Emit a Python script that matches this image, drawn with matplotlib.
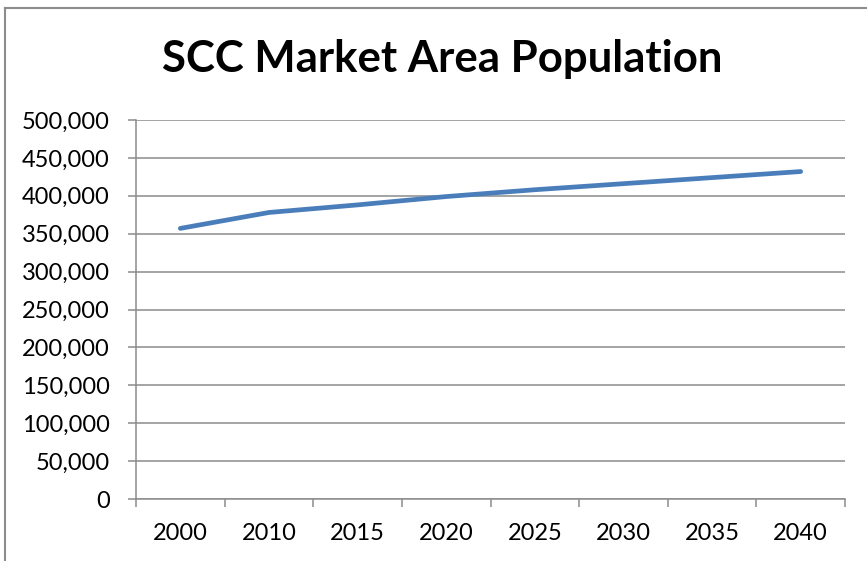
import matplotlib
matplotlib.use("Agg")
import matplotlib.pyplot as plt
from matplotlib.lines import Line2D
from matplotlib.ticker import FuncFormatter, FixedLocator

years = ["2000", "2010", "2015", "2020", "2025", "2030", "2035", "2040"]
population = [357000, 378000, 388000, 399000, 408000, 416000, 424000, 432000]
y_ticks = [0, 50000, 100000, 150000, 200000, 250000, 300000, 350000, 400000, 450000, 500000]
title = "SCC Market Area Population"

plt.rcParams['font.family'] = ['Lato', 'DejaVu Sans']

W, H = 867, 561
fig = plt.figure(figsize=(W / 100, H / 100), dpi=100)
fig.patch.set_facecolor("white")

ax = fig.add_axes([136 / W, 1 - 499 / H, (845 - 136) / W, (499 - 120) / H])
x = list(range(len(years)))
ax.plot(x, population, color="#4A7EBB", lw=3.4, solid_capstyle="round", solid_joinstyle="round", zorder=3)

ax.set_xlim(-0.5, len(years) - 0.5)
ax.set_ylim(0, 500000)
ax.yaxis.set_major_locator(FixedLocator(y_ticks))
ax.yaxis.set_major_formatter(FuncFormatter(lambda v, p: f"{int(v):,}"))
ax.grid(axis="y", color="#8C8C8C", lw=1.1, zorder=1)

ax.xaxis.set_major_locator(FixedLocator([i - 0.5 for i in range(len(years) + 1)]))
ax.xaxis.set_minor_locator(FixedLocator(x))
ax.set_xticklabels([""] * (len(years) + 1))
ax.set_xticklabels(years, minor=True)
ax.tick_params(axis="x", which="major", length=6, width=1.1, color="#8C8C8C", direction="out")
ax.tick_params(axis="x", which="minor", length=0, pad=17, labelsize=17)
ax.tick_params(axis="y", length=6, width=1.1, color="#8C8C8C", direction="out", pad=13, labelsize=17)

for s in ["top", "right"]:
    ax.spines[s].set_visible(False)
for s in ["left", "bottom"]:
    ax.spines[s].set_color("#8C8C8C")
    ax.spines[s].set_linewidth(1.1)

fig.text(442 / W, 1 - 72 / H, title, ha="center", va="baseline", fontsize=31.5, fontweight="bold")

# outer chart frame (top and left edges visible)
fig.add_artist(Line2D([4.5 / W, 1], [1 - 7.5 / H, 1 - 7.5 / H], color="#8C8C8C", lw=1.5, transform=fig.transFigure))
fig.add_artist(Line2D([4.5 / W, 4.5 / W], [0, 1 - 7.5 / H], color="#8C8C8C", lw=1.5, transform=fig.transFigure))

fig.savefig("out.png", dpi=100)
